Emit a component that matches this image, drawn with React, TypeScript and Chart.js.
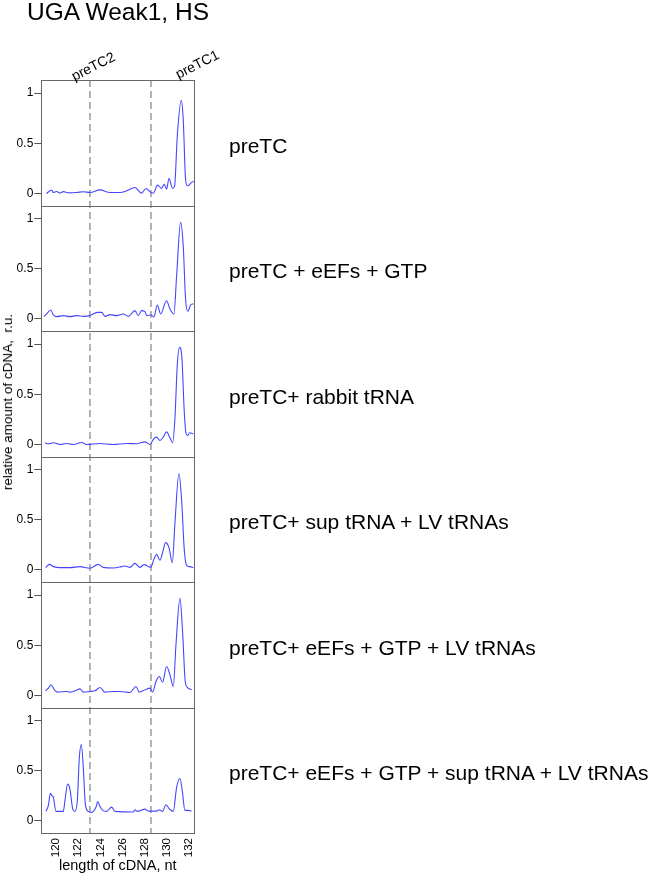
import React, { useEffect, useRef } from 'react';
import { Chart, registerables } from 'chart.js';

Chart.register(...registerables);

const chartTitle = 'UGA Weak1, HS';
const yAxisTitle = 'relative amount of cDNA,  r.u.';
const xAxisTitle = 'length of cDNA, nt';
const panelLabels = [
  'preTC',
  'preTC + eEFs + GTP',
  'preTC+ rabbit tRNA',
  'preTC+ sup tRNA + LV tRNAs',
  'preTC+ eEFs + GTP + LV tRNAs',
  'preTC+ eEFs + GTP + sup tRNA + LV tRNAs',
];
const xTickValues = [120, 122, 124, 126, 128, 130, 132];
const yTickValues = [0, 0.5, 1];
const markerValues = [123.06, 128.58];
const markerLabels = ['preTC2', 'preTC1'];

const p1X = [119.14, 119.6, 119.75, 120.05, 120.35, 120.65, 120.95, 121.25, 121.86, 122.46, 123.06, 123.97, 124.87, 125.78, 126.38, 127.13, 127.73, 128.13, 128.58, 128.79, 129.18, 129.54, 129.78, 129.99, 130.21, 130.54, 130.72, 130.96, 131.32, 131.5, 131.71, 131.89, 132.1, 132.35, 132.5];
const p1Y = [0.0, 0.035, 0.01, 0.02, 0.005, 0.018, 0.01, 0.006, 0.01, 0.017, 0.01, 0.036, 0.01, 0.01, 0.026, 0.059, 0.003, 0.05, 0.01, 0.003, 0.083, 0.05, 0.092, 0.043, 0.149, 0.05, 0.076, 0.571, 0.927, 0.736, 0.142, 0.076, 0.092, 0.116, 0.116];

const p2X = [118.9, 119.14, 119.51, 119.75, 120.05, 120.65, 121.25, 121.86, 122.46, 123.06, 123.73, 124.12, 124.42, 124.87, 125.47, 126.08, 126.53, 127.13, 127.43, 127.73, 128.04, 128.19, 128.58, 128.85, 129.15, 129.45, 129.99, 130.3, 130.66, 130.9, 131.26, 131.5, 131.71, 131.92, 132.16, 132.41];
const p2Y = [0.023, 0.05, 0.089, 0.04, 0.023, 0.033, 0.023, 0.033, 0.026, 0.033, 0.066, 0.066, 0.026, 0.043, 0.033, 0.05, 0.026, 0.083, 0.033, 0.083, 0.073, 0.033, 0.04, 0.02, 0.139, 0.05, 0.182, 0.099, 0.05, 0.429, 0.964, 0.726, 0.198, 0.076, 0.139, 0.152];

const p3X = [118.99, 119.3, 119.75, 120.35, 120.95, 121.56, 122.31, 122.76, 123.97, 125.17, 126.38, 127.28, 128.04, 128.49, 128.79, 129.09, 129.39, 129.69, 129.99, 130.3, 130.54, 130.75, 130.96, 131.17, 131.38, 131.59, 131.74, 131.89, 132.1, 132.41];
const p3Y = [0.017, 0.007, 0.017, 0.0, 0.01, 0.0, 0.02, 0.0, 0.01, 0.0, 0.01, 0.007, 0.026, 0.0, 0.05, 0.073, 0.04, 0.073, 0.125, 0.066, 0.017, 0.264, 0.792, 0.967, 0.858, 0.33, 0.116, 0.089, 0.116, 0.106];

const p4X = [119.05, 119.39, 119.75, 120.35, 121.25, 122.16, 123.06, 123.82, 124.27, 125.17, 125.93, 126.23, 126.68, 127.13, 127.58, 127.95, 128.55, 128.85, 129.09, 129.39, 129.63, 129.9, 130.21, 130.51, 130.75, 131.11, 131.35, 131.59, 131.8, 132.1, 132.41];
const p4Y = [0.023, 0.056, 0.033, 0.023, 0.023, 0.033, 0.017, 0.056, 0.026, 0.02, 0.033, 0.04, 0.026, 0.066, 0.026, 0.053, 0.026, 0.106, 0.156, 0.096, 0.172, 0.272, 0.222, 0.073, 0.47, 0.96, 0.702, 0.205, 0.046, 0.033, 0.023];

const p5X = [119.05, 119.3, 119.54, 119.84, 120.11, 120.95, 121.25, 121.71, 122.16, 122.46, 123.06, 123.51, 123.97, 124.42, 125.17, 125.78, 126.68, 127.22, 127.52, 128.04, 128.49, 128.73, 129.03, 129.33, 129.63, 129.99, 130.3, 130.6, 130.84, 131.2, 131.44, 131.68, 131.89, 132.25];
const p5Y = [0.046, 0.073, 0.106, 0.056, 0.033, 0.04, 0.033, 0.046, 0.066, 0.033, 0.04, 0.046, 0.079, 0.033, 0.04, 0.04, 0.03, 0.089, 0.033, 0.056, 0.073, 0.033, 0.139, 0.189, 0.132, 0.288, 0.205, 0.089, 0.503, 0.967, 0.636, 0.139, 0.079, 0.056];

const p6X = [119.08, 119.3, 119.48, 119.63, 119.75, 119.99, 120.65, 120.8, 121.04, 121.25, 121.5, 121.71, 121.92, 122.1, 122.28, 122.46, 122.64, 122.91, 123.21, 123.61, 123.76, 123.97, 124.21, 124.57, 125.02, 125.32, 126.98, 127.13, 127.34, 128.04, 128.34, 129.09, 129.33, 129.63, 129.93, 130.24, 130.6, 130.9, 131.2, 131.41, 131.65, 131.95, 132.25];
const p6Y = [0.095, 0.154, 0.275, 0.252, 0.236, 0.095, 0.095, 0.203, 0.367, 0.318, 0.121, 0.095, 0.203, 0.63, 0.761, 0.531, 0.17, 0.095, 0.085, 0.138, 0.193, 0.144, 0.105, 0.095, 0.138, 0.095, 0.089, 0.111, 0.095, 0.118, 0.098, 0.098, 0.111, 0.095, 0.161, 0.121, 0.095, 0.334, 0.423, 0.302, 0.105, 0.105, 0.098];

const panelX = [p1X, p2X, p3X, p4X, p5X, p6X];
const panelY = [p1Y, p2Y, p3Y, p4Y, p5Y, p6Y];

const FONT = '"Liberation Sans", Arial, Helvetica, sans-serif';
const W = 650;
const H = 878;
const PLOT_LEFT = 41.3;
const PLOT_RIGHT = 194.3;
const PLOT_TOP = 80;
const PLOT_BOTTOM = 833;
const PANEL_H = (PLOT_BOTTOM - PLOT_TOP) / 6;

export default function App() {
  const ref = useRef<HTMLCanvasElement>(null);

  useEffect(() => {
    if (!ref.current) return;
    Chart.defaults.font.family = FONT;
    const n = panelX.length;
    const scales: any = {
      x: {
        type: 'linear',
        position: 'bottom',
        min: 118.66,
        max: 132.5,
        afterBuildTicks: (s: any) => {
          s.ticks = xTickValues.map((v) => ({ value: v }));
        },
        afterFit: (s: any) => {
          s.height = H - PLOT_BOTTOM;
        },
        grid: { display: false, drawTicks: false, tickLength: 0 },
        border: { display: false },
        ticks: {
          autoSkip: false,
          minRotation: 90,
          maxRotation: 90,
          padding: 5,
          color: '#000',
          font: { size: 11.5 },
          callback: (v: any) => String(v),
        },
        title: {
          display: true,
          text: xAxisTitle,
          color: '#000',
          font: { size: 14.5 },
          padding: { top: 0, bottom: 3 },
        },
      },
    };
    for (let i = 0; i < n; i++) {
      scales['y' + i] = {
        type: 'linear',
        position: 'left',
        stack: 'panels',
        stackWeight: 1,
        weight: n - i,
        min: -0.12,
        max: 1.13,
        afterBuildTicks: (s: any) => {
          s.ticks = yTickValues.map((v) => ({ value: v }));
        },
        afterFit: (s: any) => {
          s.width = PLOT_LEFT;
        },
        grid: { drawOnChartArea: false, drawTicks: true, tickLength: 7, color: '#555', lineWidth: 1 },
        border: { display: false },
        ticks: {
          padding: 1,
          color: '#000',
          font: { size: 12 },
          callback: (v: any) => String(v),
        },
      };
    }

    const decor = {
      id: 'decor',
      beforeDatasetsDraw(chart: any) {
        const { ctx, chartArea } = chart;
        const xs = chart.scales.x;
        ctx.save();
        ctx.strokeStyle = '#8a8a8a';
        ctx.lineWidth = 1.3;
        ctx.setLineDash([7, 4]);
        markerValues.forEach((v) => {
          const px = xs.getPixelForValue(v);
          ctx.beginPath();
          ctx.moveTo(px, chartArea.top);
          ctx.lineTo(px, chartArea.bottom);
          ctx.stroke();
        });
        ctx.restore();
      },
      afterDatasetsDraw(chart: any) {
        const { ctx, chartArea } = chart;
        ctx.save();
        ctx.strokeStyle = '#666';
        ctx.lineWidth = 1;
        for (let i = 0; i < n; i++) {
          const ys = chart.scales['y' + i];
          const l = Math.round(chartArea.left) + 0.5;
          const r = Math.round(chartArea.right) + 0.5;
          const t = Math.round(ys.top) + 0.5;
          const b = Math.round(ys.bottom) + 0.5;
          ctx.strokeRect(l, t, r - l, b - t);
        }
        ctx.restore();
      },
    };

    const chart = new Chart(ref.current, {
      type: 'line',
      data: {
        datasets: panelX.map((xs, i) => ({
          label: panelLabels[i],
          data: xs.map((x, j) => ({ x, y: panelY[i][j] })),
          xAxisID: 'x',
          yAxisID: 'y' + i,
          borderColor: 'rgb(70,70,255)',
          borderWidth: 1.1,
          pointRadius: 0,
          cubicInterpolationMode: 'monotone' as const,
          fill: false,
        })),
      },
      options: {
        responsive: false,
        animation: false,
        events: [],
        layout: { padding: { top: PLOT_TOP, left: 0, right: W - PLOT_RIGHT, bottom: 0 } },
        plugins: { legend: { display: false }, tooltip: { enabled: false }, title: { display: false } },
        scales,
      },
      plugins: [decor],
    });
    return () => chart.destroy();
  }, []);

  const textBase: React.CSSProperties = {
    position: 'absolute',
    fontFamily: FONT,
    color: '#000',
    whiteSpace: 'pre',
    pointerEvents: 'none',
  };

  return (
    <div style={{ position: 'absolute', left: 0, top: 0, width: W, height: H, background: '#fff' }}>
      <canvas ref={ref} width={W} height={H} style={{ display: 'block', width: W, height: H }} />
      <div style={{ ...textBase, left: 27, top: -3, fontSize: 24.5, lineHeight: '30px' }}>{chartTitle}</div>
      <div
        style={{
          ...textBase,
          left: 8,
          top: 402,
          fontSize: 13.5,
          lineHeight: '16px',
          transform: 'translate(-50%, -50%) rotate(-90deg)',
        }}
      >
        {yAxisTitle}
      </div>
      {markerLabels.map((t, i) => (
        <div
          key={t}
          style={{
            ...textBase,
            left: i === 0 ? 93 : 197,
            top: i === 0 ? 66 : 64,
            fontSize: 14,
            lineHeight: '16px',
            transform: 'translate(-50%, -50%) rotate(-27deg)',
          }}
        >
          {t}
        </div>
      ))}
      {panelLabels.map((t, i) => (
        <div
          key={t}
          style={{
            ...textBase,
            left: 229,
            top: PLOT_TOP + PANEL_H * (i + 0.5) + 2.5 - 12.5,
            fontSize: 21,
            lineHeight: '25px',
          }}
        >
          {t}
        </div>
      ))}
    </div>
  );
}
